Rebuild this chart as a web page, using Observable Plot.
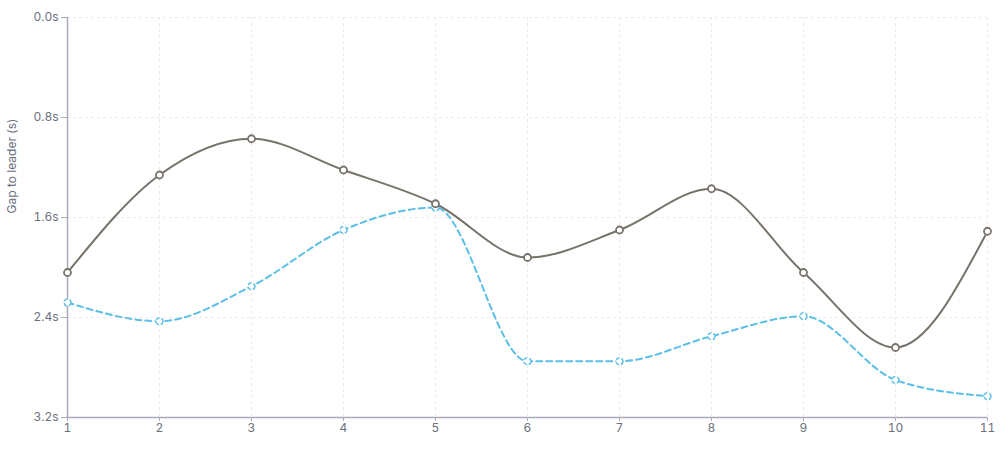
<!DOCTYPE html>
<html>
<head>
<meta charset="utf-8">
<script src="https://cdn.jsdelivr.net/npm/d3@7"></script>
<script src="https://cdn.jsdelivr.net/npm/@observablehq/plot@0.6"></script>
<style>
  html, body { margin: 0; padding: 0; background: #fff; }
  #chart svg { display: block; font-family: Inter, "Noto Sans", sans-serif; }
</style>
</head>
<body>
<div id="chart"></div>
<script>
const laps = [1, 2, 3, 4, 5, 6, 7, 8, 9, 10, 11];
const seriesA = [2.04, 1.26, 0.97, 1.22, 1.49, 1.92, 1.70, 1.37, 2.04, 2.64, 1.71];
const seriesB = [2.28, 2.43, 2.15, 1.70, 1.52, 2.75, 2.75, 2.55, 2.39, 2.90, 3.03];
const yTicks = [0, 0.8, 1.6, 2.4, 3.2];
const yLabel = "Gap to leader (s)";

const dataA = laps.map((lap, i) => ({lap, gap: seriesA[i]}));
const dataB = laps.map((lap, i) => ({lap, gap: seriesB[i]}));

const grayC = "#78736a";
const blueC = "#5cbfe7";

const plot = Plot.plot({
  width: 1002,
  height: 453,
  marginTop: 17,
  marginBottom: 36,
  marginLeft: 67,
  marginRight: 15,
  style: {fontSize: "12px", color: "#6b6f7e", fontFamily: "Inter, 'Noto Sans', sans-serif", background: "#fff"},
  x: {domain: [1, 11]},
  y: {domain: [0, 3.2], reverse: true},
  marks: [
    Plot.gridX(laps, {stroke: "#ebebeb", strokeOpacity: 1, strokeDasharray: "3,3"}),
    Plot.gridY(yTicks, {stroke: "#ebebeb", strokeOpacity: 1, strokeDasharray: "3,3"}),
    Plot.axisY(yTicks, {tickFormat: d => d.toFixed(1) + "s", tickSize: 6, tickPadding: 3, label: null, stroke: "#a9abb8", fill: "#6b6f7e"}),
    Plot.axisX(laps, {tickFormat: d => String(d), tickSize: 4, tickPadding: 2, label: null, stroke: "#a9abb8", fill: "#6b6f7e"}),
    Plot.ruleX([1], {stroke: "#a9abb8", strokeWidth: 1.5}),
    Plot.ruleY([3.2], {stroke: "#a9abb8", strokeWidth: 1.5}),
    Plot.line(dataB, {x: "lap", y: "gap", stroke: blueC, strokeWidth: 2, strokeDasharray: "6,4", curve: "monotone-x"}),
    Plot.line(dataA, {x: "lap", y: "gap", stroke: grayC, strokeWidth: 2, curve: "monotone-x"}),
    Plot.dot(dataB, {x: "lap", y: "gap", r: 3.5, fill: "white", stroke: blueC, strokeWidth: 1.5, strokeDasharray: "4,2"}),
    Plot.dot(dataA, {x: "lap", y: "gap", r: 3.5, fill: "white", stroke: grayC, strokeWidth: 1.8})
  ]
});

d3.select(plot).append("text")
  .attr("transform", "translate(13,166) rotate(-90)")
  .attr("text-anchor", "middle")
  .attr("dominant-baseline", "middle")
  .attr("fill", "#6b6f7e")
  .style("font-size", "12px")
  .text(yLabel);

document.getElementById("chart").appendChild(plot);
</script>
</body>
</html>
